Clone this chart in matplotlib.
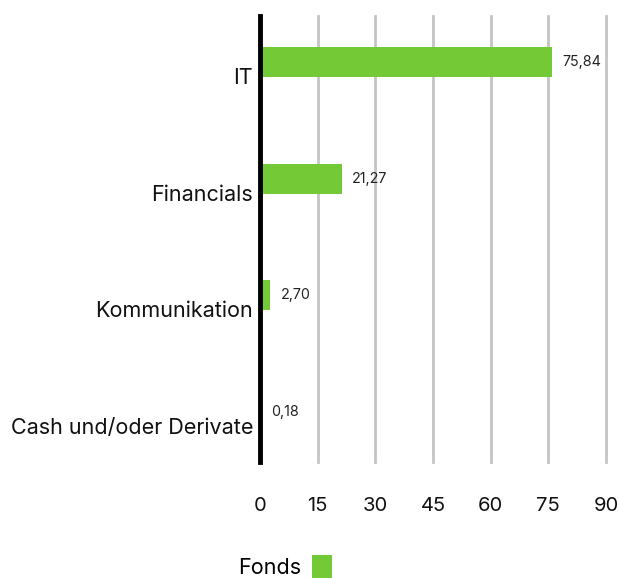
import matplotlib
matplotlib.use("Agg")
import matplotlib.pyplot as plt
from matplotlib.patches import Patch

categories = ["IT", "Financials", "Kommunikation", "Cash und/oder Derivate"]
values = [75.84, 21.27, 2.70, 0.18]
value_labels = ["75,84", "21,27", "2,70", "0,18"]
xticks = [0, 15, 30, 45, 60, 75, 90]
series_name = "Fonds"
green = "#74C936"

plt.rcParams['font.family'] = ['Inter', 'DejaVu Sans']

fig = plt.figure(figsize=(6.19, 5.78), dpi=100)
ax = fig.add_axes([260/619, 1-462/578, 346/619, 446/578])

pos = list(range(len(categories)))
ax.barh(pos, values, height=0.257, color=green, zorder=3)

for p, v, lab in zip(pos, values, value_labels):
    ax.annotate(lab, (v, p), xytext=(7.5, 0), textcoords="offset points",
                va="center", ha="left", fontsize=10.3, color="#222222")

ax.set_xlim(0, 90)
ax.set_ylim(3.43, -0.394)
ax.set_xticks(xticks)
ax.set_xticklabels([str(t) for t in xticks], fontsize=14.5, color="#111111")
ax.set_yticks([p + 0.12 for p in pos])
ax.set_yticklabels(categories, fontsize=15.5, color="#111111")
ax.tick_params(axis="both", length=0)
ax.tick_params(axis="x", pad=25)
ax.tick_params(axis="y", pad=5)

ax.grid(axis="x", color="#c4c4c4", linewidth=2, zorder=0)
for gl in ax.get_xgridlines():
    gl.set_clip_on(False)
for s in ["top", "right", "bottom"]:
    ax.spines[s].set_visible(False)
ax.spines["left"].set_linewidth(3.5)
ax.spines["left"].set_color("black")
ax.spines["left"].set_zorder(4)

handles = [Patch(facecolor=green, edgecolor="none", label=series_name)]
fig.legend(handles=handles, loc="center", bbox_to_anchor=(285/619, 1-567/578),
           frameon=False, markerfirst=False, fontsize=15.5, handlelength=0.9,
           handleheight=1.3, handletextpad=0.5)

fig.savefig("out.png", dpi=100)
